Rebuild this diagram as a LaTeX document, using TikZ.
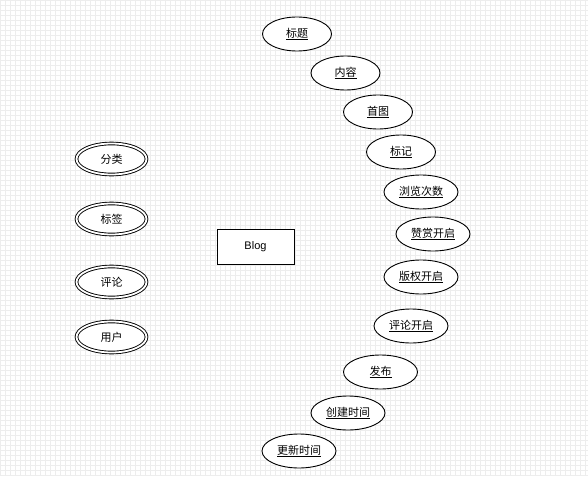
\documentclass[tikz,border=0pt]{standalone}
\usepackage{fontspec}
\setmainfont{Liberation Sans}
\newfontfamily\cjk{Noto Sans CJK SC}
\usetikzlibrary{shapes.geometric}

\begin{document}
\begin{tikzpicture}[x=1pt, y=-1pt,
    attr/.style={draw, ellipse, line width=0.9pt, fill=white, minimum width=69pt,
      minimum height=34pt, inner sep=1pt, font=\cjk\fontsize{11}{13}\selectfont},
    wideattr/.style={attr, minimum width=74pt},
    multiattr/.style={attr, double, double distance=1.8pt, minimum width=70pt, minimum height=31pt},
    entity/.style={draw, line width=0.9pt, fill=white, minimum width=77pt, minimum height=35pt,
      font=\fontsize{11}{13}\selectfont}]
  \useasboundingbox (0,0) rectangle (588,476);
  \draw[gray!14, step=5pt] (0,0) grid (588,476);

  \node[entity] (blog) at (255.5,246.5) {Blog};

  \node[multiattr] (fenlei) at (111.5,159) {分类};
  \node[multiattr] (biaoqian) at (111.5,219) {标签};
  \node[multiattr] (pinglun) at (111.5,282) {评论};
  \node[multiattr] (yonghu) at (111.5,337) {用户};

  \node[attr] (biaoti) at (297,34) {\underline{标题}};
  \node[attr] (neirong) at (345.5,73) {\underline{内容}};
  \node[attr] (shoutu) at (378,112) {\underline{首图}};
  \node[attr] (biaoji) at (401,152) {\underline{标记}};
  \node[wideattr] (liulan) at (421,192) {\underline{浏览次数}};
  \node[wideattr] (zanshang) at (433,234) {\underline{赞赏开启}};
  \node[wideattr] (banquan) at (421,277) {\underline{版权开启}};
  \node[wideattr] (plkaiqi) at (411,326) {\underline{评论开启}};
  \node[wideattr] (fabu) at (380.5,372) {\underline{发布}};
  \node[wideattr] (chuangjian) at (348,413) {\underline{创建时间}};
  \node[wideattr] (gengxin) at (299,451) {\underline{更新时间}};
\end{tikzpicture}
\end{document}
